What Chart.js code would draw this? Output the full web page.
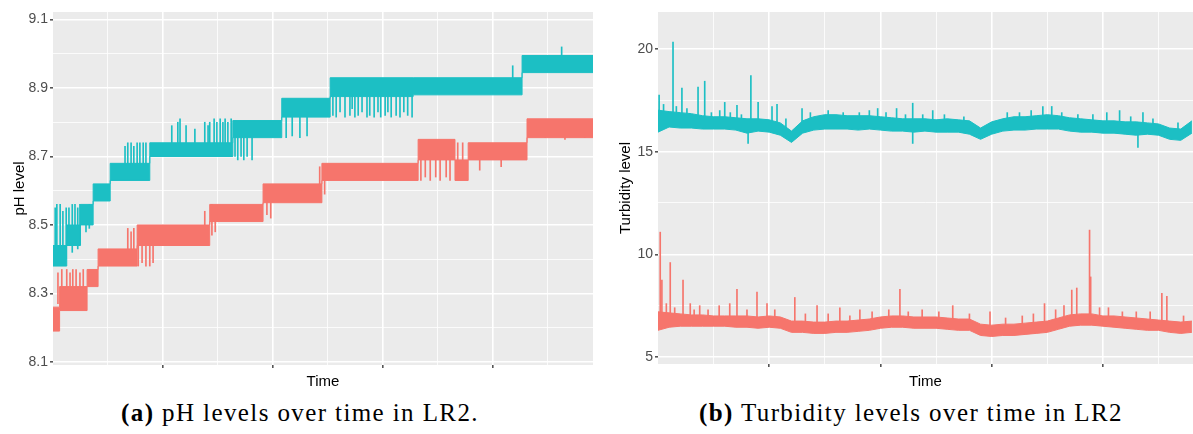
<!DOCTYPE html>
<html>
<head>
<meta charset="utf-8">
<script src="https://cdn.jsdelivr.net/npm/chart.js@4.4.1/dist/chart.umd.min.js"></script>
<style>
  body { margin: 0; background: #fff; width: 1193px; height: 434px; overflow: hidden; position: relative; }
  .panel { position: absolute; top: 0; height: 395px; }
  #ph-wrap { left: 0; width: 600px; }
  #turb-wrap { left: 600px; width: 593px; }
  .caption { position: absolute; top: 399px; font-family: "Liberation Serif", "DejaVu Serif", serif; font-size: 25px; letter-spacing: 1.4px; color: #000; transform: translateX(-50%); white-space: nowrap; }
</style>
</head>
<body>
<div class="panel" id="ph-wrap"><canvas id="ph-chart"></canvas></div>
<div class="panel" id="turb-wrap"><canvas id="turb-chart"></canvas></div>
<div class="caption" style="left:300px"><b>(a)</b> pH levels over time in LR2.</div>
<div class="caption" style="left:911px"><b>(b)</b> Turbidity levels over time in LR2</div>
<script>
const TEAL = '#1cbfc4';
const RED = '#f6756c';

// ---- pH panel (time in arbitrary units, ticks are unlabeled) ----
const phTimeGrid = [10, 20, 30, 40, 50, 60, 70, 80, 90];
const phTimeMajor = [20, 40, 60, 80];
const phYGrid = [8.1, 8.2, 8.3, 8.4, 8.5, 8.6, 8.7, 8.8, 8.9, 9.0, 9.1];
const phYLabels = ['8.1', '8.3', '8.5', '8.7', '8.9', '9.1'];

// step levels: each value holds from its time until the next one
const phTealTime = [0, 2.5, 5.0, 7.3, 10.4, 17.6, 32.7, 41.6, 50.4, 65.5, 85.3, 98.2];
const phTealLow  = [8.38, 8.44, 8.50, 8.57, 8.63, 8.70, 8.755, 8.815, 8.875, 8.88, 8.945, 8.945];
const phTealHigh = [8.44, 8.50, 8.56, 8.62, 8.68, 8.74, 8.805, 8.87, 8.93, 8.93, 8.995, 8.995];

const phRedTime = [0, 1.2, 6.2, 8.2, 15.3, 28.5, 38.2, 48.9, 66.4, 73.1, 75.5, 86.2, 98.2];
const phRedLow  = [8.19, 8.25, 8.32, 8.38, 8.44, 8.51, 8.565, 8.63, 8.69, 8.63, 8.69, 8.755, 8.755];
const phRedHigh = [8.26, 8.32, 8.37, 8.43, 8.50, 8.56, 8.62, 8.68, 8.75, 8.69, 8.74, 8.81, 8.81];

// single readings that jump out of the band
const phTealSpikeTime = [0.4, 0.7, 1.3, 1.8, 2.4, 2.9, 3.5, 4.0, 4.5, 4.9, 6.0, 6.6,
  13.1, 13.6, 14.2, 14.7, 15.3, 15.8, 16.4, 16.9,
  21.6, 22.7, 23.1, 24.2, 25.8, 27.6, 28.2, 28.5, 29.3, 29.8, 30.4, 30.9, 31.3, 31.8, 32.4,
  33.1, 33.6, 34.2, 34.7, 35.3, 36.2, 42.4, 43.5, 44.9, 46.2,
  50.9, 51.5, 52.2, 53.1, 54.0, 54.4, 54.9, 55.5, 56.2, 57.1, 57.6, 58.4, 59.1, 59.6, 60.4, 60.9, 61.5, 62.4, 63.1, 63.8, 64.5, 65.3,
  83.6, 92.5];
const phTealSpikeFrom = [8.40, 8.39, 8.41, 8.39, 8.40, 8.44, 8.42, 8.44, 8.43, 8.45, 8.48, 8.49,
  8.65, 8.64, 8.65, 8.64, 8.65, 8.64, 8.64, 8.65,
  8.72, 8.72, 8.72, 8.72, 8.72, 8.72, 8.72, 8.72, 8.72, 8.72, 8.72, 8.72, 8.72, 8.72, 8.72,
  8.70, 8.69, 8.70, 8.69, 8.70, 8.69, 8.755, 8.76, 8.755, 8.76,
  8.82, 8.815, 8.83, 8.815, 8.82, 8.84, 8.815, 8.82, 8.83, 8.815, 8.82, 8.815, 8.83, 8.815, 8.82, 8.83, 8.815, 8.82, 8.815, 8.83, 8.82, 8.815,
  8.92, 8.98];
const phTealSpikeTo = [8.55, 8.56, 8.56, 8.54, 8.55, 8.55, 8.56, 8.56, 8.55, 8.56, 8.55, 8.56,
  8.73, 8.74, 8.74, 8.73, 8.74, 8.74, 8.74, 8.74,
  8.79, 8.80, 8.81, 8.79, 8.78, 8.80, 8.79, 8.80, 8.81, 8.80, 8.81, 8.80, 8.81, 8.80, 8.81,
  8.77, 8.77, 8.77, 8.77, 8.77, 8.77, 8.83, 8.83, 8.83, 8.83,
  8.90, 8.90, 8.90, 8.90, 8.90, 8.90, 8.90, 8.90, 8.90, 8.90, 8.90, 8.90, 8.90, 8.90, 8.90, 8.90, 8.90, 8.90, 8.90, 8.90, 8.90, 8.90,
  8.965, 9.02];

const phRedSpikeTime = [0.9, 1.6, 2.5, 3.1, 3.6, 4.2, 4.9, 5.5,
  13.6, 14.2, 14.7, 15.5, 16.2, 16.9, 17.6, 18.2, 27.6, 28.9, 29.5, 38.9, 39.6, 48.5, 49.4,
  66.9, 67.7, 68.6, 69.6, 70.4, 71.5, 72.2, 73.6, 74.5, 77.6, 81.5, 89.5, 93.1, 96.7];
const phRedSpikeFrom = [8.27, 8.28, 8.29, 8.28, 8.29, 8.28, 8.29, 8.28,
  8.40, 8.40, 8.40, 8.38, 8.39, 8.38, 8.38, 8.39, 8.46, 8.47, 8.48, 8.53, 8.52, 8.60, 8.59,
  8.63, 8.64, 8.63, 8.64, 8.63, 8.64, 8.63, 8.66, 8.66, 8.66, 8.67, 8.755, 8.75, 8.755];
const phRedSpikeTo = [8.36, 8.37, 8.37, 8.36, 8.37, 8.37, 8.36, 8.37,
  8.49, 8.48, 8.49, 8.46, 8.47, 8.46, 8.47, 8.47, 8.54, 8.56, 8.55, 8.60, 8.60, 8.67, 8.66,
  8.72, 8.72, 8.72, 8.72, 8.71, 8.72, 8.72, 8.74, 8.74, 8.72, 8.72, 8.78, 8.78, 8.78];

// ---- Turbidity panel ----
const turbTimeGrid = [10, 20, 30, 40, 50, 60, 70, 80, 90];
const turbTimeMajor = [20, 40, 60, 80];
const turbYGrid = [5, 7.5, 10, 12.5, 15, 17.5, 20];
const turbYLabels = ['5', '10', '15', '20'];

const turbTime = [0, 2, 4, 6, 8, 10, 12, 14, 16, 18, 20, 22, 24, 26, 28, 30, 32, 34, 36, 38,
  40, 42, 44, 46, 48, 50, 52, 54, 56, 58, 60, 62, 64, 66, 68, 70, 72, 74, 76, 78,
  80, 82, 84, 86, 88, 90, 92, 94, 96];
const turbTealLow = [15.95, 16.2, 16.15, 16.15, 16.1, 16.1, 16.1, 16.05, 15.9, 16.0, 15.95, 15.8, 15.45, 15.9, 16.05, 16.1, 16.1, 16.1, 16.05, 16.1,
  16.05, 16.0, 16.0, 15.95, 16.0, 15.95, 15.95, 15.95, 15.85, 15.6, 15.85, 16.0, 16.05, 16.05, 16.1, 16.1, 16.1, 16.0, 15.95, 15.95,
  15.9, 15.9, 15.85, 15.8, 15.85, 15.8, 15.6, 15.55, 15.9];
const turbTealHigh = [17.02, 16.95, 16.9, 16.85, 16.75, 16.7, 16.7, 16.65, 16.6, 16.6, 16.55, 16.4, 16.0, 16.5, 16.7, 16.8, 16.8, 16.75, 16.75, 16.75,
  16.7, 16.65, 16.6, 16.6, 16.6, 16.55, 16.6, 16.55, 16.5, 16.15, 16.45, 16.6, 16.7, 16.7, 16.75, 16.8, 16.75, 16.65, 16.6, 16.55,
  16.5, 16.5, 16.45, 16.45, 16.4, 16.35, 16.15, 16.1, 16.5];
const turbRedLow = [6.3, 6.45, 6.5, 6.5, 6.5, 6.5, 6.5, 6.45, 6.45, 6.4, 6.45, 6.4, 6.2, 6.2, 6.15, 6.15, 6.2, 6.2, 6.25, 6.3,
  6.4, 6.45, 6.45, 6.4, 6.4, 6.4, 6.35, 6.3, 6.3, 6.05, 6.0, 6.05, 6.05, 6.1, 6.15, 6.2, 6.35, 6.5, 6.55, 6.55,
  6.5, 6.45, 6.4, 6.35, 6.3, 6.3, 6.2, 6.15, 6.2];
const turbRedHigh = [7.2, 7.15, 7.1, 7.05, 7.05, 7.0, 7.0, 7.0, 7.0, 6.95, 7.0, 6.95, 6.75, 6.75, 6.7, 6.7, 6.75, 6.75, 6.8, 6.85,
  6.95, 7.0, 7.0, 6.95, 6.95, 6.95, 6.9, 6.85, 6.85, 6.6, 6.55, 6.6, 6.6, 6.65, 6.7, 6.75, 6.9, 7.05, 7.1, 7.1,
  7.0, 7.0, 6.95, 6.9, 6.85, 6.8, 6.75, 6.7, 6.75];

const turbTealSpikeTime = [0.2, 1.0, 2.7, 3.3, 4.3, 5.2, 7.2, 8.4, 9.6, 11.1, 12.0, 13.0, 14.2, 15.0, 16.2, 16.7, 18.0, 20.5, 21.4, 23.0,
  25.9, 27.4, 30.6, 33.3, 36.2, 38.0, 39.5, 41.0, 42.9, 44.5, 45.8, 47.6, 49.4, 51.5, 55.0, 62.8, 65.0, 67.1, 69.2, 70.8,
  72.6, 75.5, 78.2, 80.7, 83.0, 85.0, 86.3, 87.2, 89.0, 93.5];
const turbTealSpikeFrom = [16.5, 16.5, 16.8, 16.5, 16.8, 16.5, 16.7, 16.7, 16.4, 16.4, 16.6, 16.3, 16.6, 16.3, 15.4, 16.5, 16.5, 16.4, 16.4, 16.0,
  16.4, 16.3, 16.4, 16.4, 16.4, 16.4, 16.6, 16.3, 16.5, 16.3, 15.4, 16.3, 16.4, 16.2, 16.2, 16.3, 16.4, 16.4, 16.7, 16.7,
  16.4, 16.3, 16.2, 16.4, 16.4, 16.1, 15.2, 16.3, 16.1, 15.9];
const turbTealSpikeTo = [17.75, 17.3, 20.33, 17.2, 18.1, 17.1, 18.15, 18.43, 16.9, 17.0, 17.4, 16.9, 17.25, 16.8, 16.2, 18.7, 17.4, 17.2, 17.3, 16.6,
  17.1, 16.9, 17.0, 16.9, 16.9, 17.0, 17.1, 16.9, 17.1, 16.8, 17.36, 16.8, 17.0, 16.8, 16.7, 16.9, 16.9, 17.0, 17.2, 17.2,
  16.9, 16.8, 16.8, 16.9, 17.0, 16.7, 16.0, 16.9, 16.6, 16.4];

const turbRedSpikeTime = [0.4, 0.7, 1.5, 2.2, 3.0, 4.5, 5.8, 6.5, 7.5, 9.0, 11.0, 12.9, 14.2, 16.0, 17.8, 19.6, 21.0, 24.6, 26.5, 28.6,
  30.6, 32.7, 34.5, 36.3, 38.5, 41.5, 43.5, 45.0, 47.5, 50.5, 53.0, 56.0, 59.7, 62.5, 65.5, 67.5, 69.5, 71.5, 73.0, 74.4,
  75.3, 77.6, 77.8, 79.4, 81.0, 83.5, 86.0, 88.5, 90.6, 91.5, 94.5];
const turbRedSpikeFrom = [7.0, 7.0, 6.8, 7.0, 6.8, 7.0, 6.9, 6.8, 6.9, 6.8, 6.8, 6.8, 6.9, 6.7, 6.9, 6.9, 6.7, 6.7, 6.5, 6.6,
  6.5, 6.7, 6.5, 6.7, 6.6, 6.7, 6.9, 6.7, 6.7, 6.7, 6.8, 6.6, 6.5, 6.3, 6.4, 6.4, 6.7, 6.6, 6.8, 6.9,
  6.9, 7.0, 7.0, 6.9, 6.8, 6.7, 6.6, 6.6, 6.7, 6.7, 6.5];
const turbRedSpikeTo = [11.08, 8.75, 7.6, 9.6, 7.4, 8.75, 7.6, 7.3, 7.5, 7.3, 7.5, 7.6, 8.3, 7.3, 8.16, 7.6, 7.3, 7.9, 7.1, 7.5,
  7.1, 7.4, 7.0, 7.3, 7.2, 7.3, 8.3, 7.2, 7.3, 7.2, 7.5, 7.1, 7.2, 6.9, 7.0, 7.1, 7.6, 7.3, 7.5, 8.26,
  8.36, 11.18, 8.9, 7.4, 7.4, 7.2, 7.2, 7.2, 8.1, 7.95, 7.0];

const panelBg = {
  id: 'panelBg',
  beforeDraw(chart) {
    const {ctx, chartArea: a} = chart;
    ctx.save();
    ctx.fillStyle = '#ebebeb';
    ctx.fillRect(a.left, a.top, a.right - a.left, a.bottom - a.top);
    ctx.restore();
  }
};

const near = (list, v) => list.some(m => Math.abs(m - v) < 1e-6);
const toPts = (xs, ys) => xs.map((x, i) => ({x: x, y: ys[i]}));
const toSpikes = (xs, from, to) => xs.map((x, i) => ({x: x, y: [from[i], to[i]]}));

function band(time, low, high, color, stepped) {
  return [
    {type: 'line', data: toPts(time, low), borderColor: color, borderWidth: 1, pointRadius: 0, stepped: stepped, fill: false},
    {type: 'line', data: toPts(time, high), borderColor: color, borderWidth: 1, pointRadius: 0, stepped: stepped, fill: '-1', backgroundColor: color}
  ];
}

function spikes(time, from, to, color) {
  return {type: 'bar', data: toSpikes(time, from, to), backgroundColor: color, barThickness: 1, grouped: false, borderWidth: 0};
}

function makeChart(id, o) {
  const isLabelled = v => o.yLabels.some(l => Math.abs(parseFloat(l) - v) < 1e-6);
  return new Chart(document.getElementById(id), {
    type: 'line',
    data: {datasets: o.datasets},
    plugins: [panelBg],
    options: {
      responsive: true,
      maintainAspectRatio: false,
      animation: false,
      layout: {padding: o.padding},
      plugins: {legend: {display: false}, tooltip: {enabled: false}},
      scales: {
        x: {
          type: 'linear', offset: false, min: 0, max: o.xMax,
          afterBuildTicks: s => { s.ticks = o.xGrid.map(v => ({value: v})); },
          afterFit: s => { s.height = o.xHeight; },
          ticks: {display: false},
          border: {display: false},
          grid: {
            offset: false,
            color: '#ffffff',
            lineWidth: c => near(o.xMajor, c.tick.value) ? 1.6 : 0.8,
            tickLength: 3,
            tickColor: c => near(o.xMajor, c.tick.value) ? '#555555' : 'rgba(0,0,0,0)'
          },
          title: {display: true, text: 'Time', color: '#000', font: {family: 'Liberation Sans', size: 15}, padding: {top: 0, bottom: 4}}
        },
        y: {
          type: 'linear', min: o.yMin, max: o.yMax,
          afterBuildTicks: s => { s.ticks = o.yGrid.map(v => ({value: v})); },
          afterFit: s => { s.width = o.yWidth; },
          border: {display: false},
          ticks: {
            autoSkip: false, padding: 2, color: '#4d4d4d',
            font: {family: 'Liberation Sans', size: 14},
            callback: v => o.yLabels.find(l => Math.abs(parseFloat(l) - v) < 1e-6) || ''
          },
          grid: {
            color: '#ffffff',
            lineWidth: c => isLabelled(c.tick.value) ? 1.6 : 0.8,
            tickLength: 3,
            tickColor: c => isLabelled(c.tick.value) ? '#555555' : 'rgba(0,0,0,0)'
          },
          title: {display: true, text: o.yTitle, color: '#000', font: {family: 'Liberation Sans', size: 15}, padding: {top: o.yTitlePad, bottom: 0}}
        }
      }
    }
  });
}

makeChart('ph-chart', {
  datasets: [
    ...band(phTealTime, phTealLow, phTealHigh, TEAL, true),
    ...band(phRedTime, phRedLow, phRedHigh, RED, true),
    spikes(phTealSpikeTime, phTealSpikeFrom, phTealSpikeTo, TEAL),
    spikes(phRedSpikeTime, phRedSpikeFrom, phRedSpikeTo, RED)
  ],
  padding: {top: 12, right: 7, left: 0, bottom: 0},
  xMax: 98.2, xGrid: phTimeGrid, xMajor: phTimeMajor, xHeight: 30,
  yMin: 8.091, yMax: 9.122, yGrid: phYGrid, yLabels: phYLabels, yWidth: 53,
  yTitle: 'pH level', yTitlePad: 11
});

makeChart('turb-chart', {
  datasets: [
    ...band(turbTime, turbTealLow, turbTealHigh, TEAL, false),
    ...band(turbTime, turbRedLow, turbRedHigh, RED, false),
    spikes(turbTealSpikeTime, turbTealSpikeFrom, turbTealSpikeTo, TEAL),
    spikes(turbRedSpikeTime, turbRedSpikeFrom, turbRedSpikeTo, RED)
  ],
  padding: {top: 12, right: 0, left: 0, bottom: 0},
  xMax: 96.2, xGrid: turbTimeGrid, xMajor: turbTimeMajor, xHeight: 31,
  yMin: 4.66, yMax: 21.8, yGrid: turbYGrid, yLabels: turbYLabels, yWidth: 58,
  yTitle: 'Turbidity level', yTitlePad: 17
});
</script>
</body>
</html>
